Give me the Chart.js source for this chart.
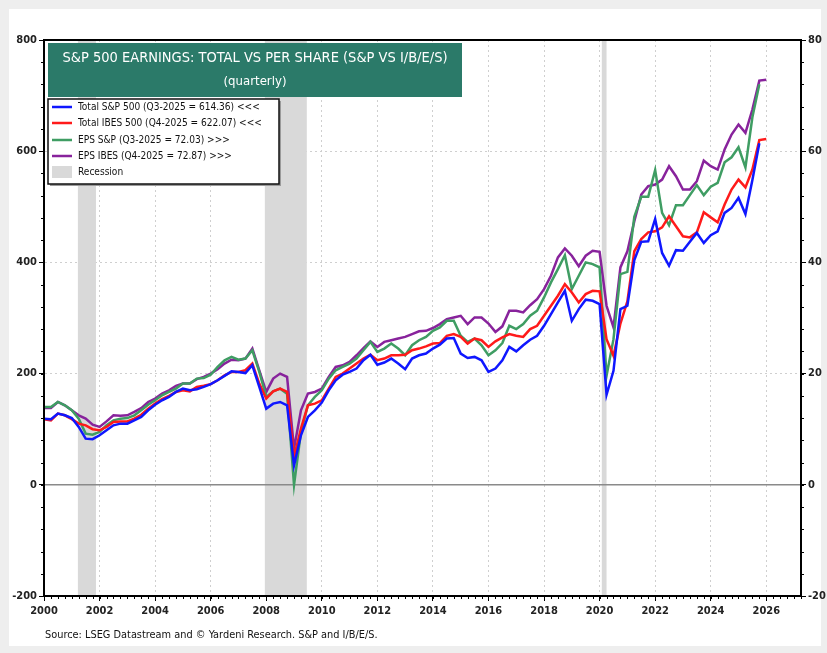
<!DOCTYPE html>
<html lang="en">
<head>
<meta charset="UTF-8">
<title>S&P 500 Earnings: Total vs Per Share</title>
<script src="https://cdn.jsdelivr.net/npm/chart.js"></script>
<style>
    body { margin: 0; background: #eeeeee; width: 827px; height: 653px; overflow: hidden; }
    #frame { position: absolute; left: 9px; top: 9px; width: 812px; height: 637px; background: #fff; }
    #chart { position: absolute; left: 0; top: 0; }
</style>
</head>
<body>
<div id="frame"></div>
<canvas id="chart" width="827" height="653"></canvas>
<script>
// quarterly values, first point = Q4 1999 (plotted at 2000.0), one point per quarter end
const firstQuarterEnd = 2000;

// Total S&P 500 operating earnings ($bn, left axis), through Q3-2025
const totalSP = [119,118,128,125,120,104,83,82,89,98,107,110,110,116,122,134,144,152,158,167,173,170,172,
    176,181,188,196,204,203,201,215,176,137,146,149,143,35,89,122,134,148,170,188,
    198,203,209,224,234,216,220,227,218,208,227,233,236,245,252,263,264,236,228,230,224,203,209,
    224,248,240,251,261,268,286,307,328,349,295,316,333,331,325,
    162,205,316,322,
    404,437,438,478,417,394,422,421,437,453,435,449,456,489,498,516,487,548,614.36];

// Total I/B/E/S 500 earnings ($bn, left axis), through Q4-2025
const totalIBES = [118,116,128,125,118,110,107,100,98,104,113,114,114,119,126,137,146,154,160,167,170,168,176,
    178,181,188,197,203,203,206,218,182,155,168,173,167,50,101,143,146,152,173,194,
    200,209,218,227,234,224,227,233,233,234,242,245,249,254,255,268,271,266,254,263,260,248,258,
    265,271,268,266,280,286,304,322,340,361,346,328,343,349,348,
    262,232,290,330,
    420,442,454,456,463,483,465,447,445,454,490,481,472,504,531,549,535,567,620,622.07];

// EPS S&P ($, right axis), through Q3-2025
const epsSP = [14.0,14.0,14.9,14.3,13.4,11.9,9.2,9.0,9.5,10.7,11.6,11.9,12.0,12.5,13.4,14.4,15.2,16.1,16.7,17.3,18.2,18.2,19.1,
    19.2,19.8,21.2,22.4,23.0,22.5,22.7,24.2,20.3,15.8,16.8,17.3,16.4,0.0,9.5,14.3,15.8,17.0,19.1,20.6,
    21.2,21.8,22.7,24.2,25.7,23.9,24.5,25.4,24.5,23.3,25.1,26.0,26.6,27.7,28.3,29.5,29.5,26.8,25.7,26.3,25.1,23.3,24.2,
    25.5,28.6,28.0,28.9,30.4,31.3,33.7,36.4,38.8,41.3,35.2,37.6,40.0,39.7,39.1,
    19.6,26.2,37.9,38.3,
    48.2,51.8,51.8,56.6,48.9,46.7,50.3,50.3,52.1,53.9,52.1,53.6,54.3,58.0,58.9,60.7,57.1,66.1,72.03];

// EPS I/B/E/S ($, right axis), through Q4-2025
const epsIBES = [13.8,13.8,14.9,14.3,13.4,12.5,11.9,10.8,10.4,11.4,12.5,12.4,12.5,13.1,13.8,14.9,15.5,16.4,17.0,17.8,18.2,18.2,19.0,
    19.4,20.0,20.8,21.8,22.5,22.4,22.7,24.5,20.6,16.7,19.1,20.0,19.4,6.5,13.4,16.4,16.7,17.3,19.4,21.2,
    21.5,22.1,23.3,24.6,25.8,24.8,25.7,26.0,26.3,26.6,27.1,27.6,27.7,28.2,28.9,29.8,30.1,30.4,28.9,30.1,30.1,29.0,27.5,
    28.5,31.3,31.3,31.0,32.3,33.4,35.2,37.6,40.9,42.5,41.2,39.3,41.2,42.1,41.9,
    32.2,28.3,39.1,42.0,
    47.4,52.2,53.7,54.0,54.9,57.3,55.5,53.1,53.1,54.6,58.3,57.3,56.7,60.3,63.0,64.8,63.3,67.5,72.7,72.87];

const seriesLabels = [
    'Total S&P 500 (Q3-2025 = 614.36) <<<',
    'Total IBES 500 (Q4-2025 = 622.07) <<<',
    'EPS S&P (Q3-2025 = 72.03) >>>',
    'EPS IBES (Q4-2025 = 72.87) >>>'
];

const recessionStart = [2001.22, 2007.95, 2020.08];
const recessionEnd = [2001.87, 2009.46, 2020.25];

const yearTicks = [2000,2002,2004,2006,2008,2010,2012,2014,2016,2018,2020,2022,2024,2026];
const leftTicks = [-200,0,200,400,600,800];
const rightTicks = [-20,0,20,40,60,80];

const titleLines = ['S&P 500 EARNINGS: TOTAL VS PER SHARE (S&P VS I/B/E/S)', '(quarterly)'];
const sourceText = 'Source: LSEG Datastream and \u00A9 Yardeni Research. S&P and I/B/E/S.';

const FONT = '"Liberation Sans Narrow", "DejaVu Sans Condensed", "Liberation Sans", Arial, sans-serif';
const colors = ['#0f17ff', '#ff1a1a', '#3f9d63', '#88239c'];

const toPoints = arr => arr.map((v, i) => ({ x: firstQuarterEnd + i / 4, y: v }));

// font sized so the text spans the given width
function fitFont(ctx, text, width, weight) {
    ctx.font = `${weight} 20px ${FONT}`;
    const w = ctx.measureText(text).width;
    return `${weight} ${(20 * width / w).toFixed(2)}px ${FONT}`;
}

const decor = {
    id: 'decor',
    beforeDatasetsDraw(chart) {
        const { ctx, chartArea: a, scales: { x, y } } = chart;
        ctx.save();
        ctx.fillStyle = '#d9d9d9';
        recessionStart.forEach((s, i) => {
            const x1 = x.getPixelForValue(s);
            const x2 = x.getPixelForValue(recessionEnd[i]);
            ctx.fillRect(x1, a.top, x2 - x1, a.bottom - a.top);
        });
        const y0 = y.getPixelForValue(0);
        ctx.strokeStyle = '#8a8a8a';
        ctx.lineWidth = 1.5;
        ctx.beginPath();
        ctx.moveTo(a.left, y0);
        ctx.lineTo(a.right, y0);
        ctx.stroke();
        ctx.restore();
    },
    afterDraw(chart) {
        const { ctx, chartArea: a, scales: { x, y, y2 } } = chart;
        ctx.save();

        // frame
        ctx.strokeStyle = '#000';
        ctx.lineWidth = 2;
        ctx.strokeRect(a.left, a.top, a.right - a.left, a.bottom - a.top);

        // minor ticks
        ctx.lineWidth = 1;
        ctx.beginPath();
        for (let v = -200; v <= 800; v += 40) {
            const py = Math.round(y.getPixelForValue(v)) + 0.5;
            ctx.moveTo(a.left - 3, py); ctx.lineTo(a.left, py);
        }
        for (let v = -20; v <= 80; v += 4) {
            const py = Math.round(y2.getPixelForValue(v)) + 0.5;
            ctx.moveTo(a.right, py); ctx.lineTo(a.right + 3, py);
        }
        for (let q = 2000; q <= 2027.25; q += 0.25) {
            const px = Math.round(x.getPixelForValue(q)) + 0.5;
            ctx.moveTo(px, a.bottom); ctx.lineTo(px, a.bottom + 3);
        }
        ctx.stroke();

        // title box
        ctx.fillStyle = '#2b7a69';
        ctx.fillRect(48, 43, 414, 54);
        ctx.fillStyle = '#fff';
        ctx.textAlign = 'center';
        ctx.textBaseline = 'middle';
        ctx.font = fitFont(ctx, titleLines[0], 385, 'normal');
        ctx.fillText(titleLines[0], 255, 58);
        ctx.font = fitFont(ctx, titleLines[1], 63, 'normal');
        ctx.fillText(titleLines[1], 255, 82);

        // legend
        ctx.fillStyle = '#9a9a9a';
        ctx.fillRect(50, 101, 231, 85);
        ctx.fillStyle = '#fff';
        ctx.fillRect(48, 99, 231, 85);
        ctx.strokeStyle = '#111';
        ctx.lineWidth = 1.5;
        ctx.strokeRect(48, 99, 231, 85);
        ctx.textAlign = 'left';
        const legendFont = fitFont(ctx, seriesLabels[1], 184, 'normal');
        const rows = [107, 123, 140, 156, 172];
        seriesLabels.forEach((label, i) => {
            ctx.strokeStyle = colors[i];
            ctx.lineWidth = 2.5;
            ctx.beginPath();
            ctx.moveTo(52, rows[i]); ctx.lineTo(72, rows[i]);
            ctx.stroke();
            ctx.fillStyle = '#111';
            ctx.font = legendFont;
            ctx.fillText(label, 78, rows[i]);
        });
        ctx.fillStyle = '#d9d9d9';
        ctx.fillRect(52, rows[4] - 6, 20, 12);
        ctx.fillStyle = '#111';
        ctx.fillText('Recession', 78, rows[4]);

        // source
        ctx.font = fitFont(ctx, sourceText, 333, 'normal');
        ctx.fillStyle = '#111';
        ctx.fillText(sourceText, 45, 635);
        ctx.restore();
    }
};

const tickFont = { family: FONT, size: 11, weight: 'bold' };

new Chart(document.getElementById('chart'), {
    type: 'line',
    data: {
        datasets: [
            { label: seriesLabels[0], data: toPoints(totalSP), borderColor: colors[0], yAxisID: 'y' },
            { label: seriesLabels[1], data: toPoints(totalIBES), borderColor: colors[1], yAxisID: 'y' },
            { label: seriesLabels[2], data: toPoints(epsSP), borderColor: colors[2], yAxisID: 'y2' },
            { label: seriesLabels[3], data: toPoints(epsIBES), borderColor: colors[3], yAxisID: 'y2' }
        ]
    },
    options: {
        responsive: false,
        animation: false,
        devicePixelRatio: 1,
        layout: { padding: { left: 0, right: 0, top: 40, bottom: 30 } },
        elements: {
            point: { radius: 0 },
            line: { borderWidth: 2.5, tension: 0, fill: false }
        },
        plugins: {
            legend: { display: false },
            tooltip: { enabled: false },
            title: { display: false }
        },
        scales: {
            x: {
                type: 'linear',
                min: 2000,
                max: 2027.25,
                afterBuildTicks: axis => { axis.ticks = yearTicks.map(v => ({ value: v })); },
                afterFit: axis => { axis.height = 27; },
                ticks: { font: tickFont, color: '#222', padding: 4, maxRotation: 0, callback: v => String(v) },
                grid: { color: '#cfcfcf', lineWidth: 1, tickLength: 5, tickColor: '#000' },
                border: { color: '#000', width: 2, dash: [2, 3] }
            },
            y: {
                position: 'left',
                min: -200,
                max: 800,
                afterBuildTicks: axis => { axis.ticks = leftTicks.map(v => ({ value: v })); },
                afterFit: axis => { axis.width = 44; },
                ticks: { font: tickFont, color: '#222', padding: 2 },
                grid: { color: '#cfcfcf', lineWidth: 1, tickLength: 5, tickColor: '#000' },
                border: { color: '#000', width: 2, dash: [2, 3] }
            },
            y2: {
                position: 'right',
                min: -20,
                max: 80,
                afterBuildTicks: axis => { axis.ticks = rightTicks.map(v => ({ value: v })); },
                afterFit: axis => { axis.width = 26; },
                ticks: { font: tickFont, color: '#222', padding: 2 },
                grid: { drawOnChartArea: false, tickLength: 5, tickColor: '#000' },
                border: { color: '#000', width: 2 }
            }
        }
    },
    plugins: [decor]
});
</script>
</body>
</html>
